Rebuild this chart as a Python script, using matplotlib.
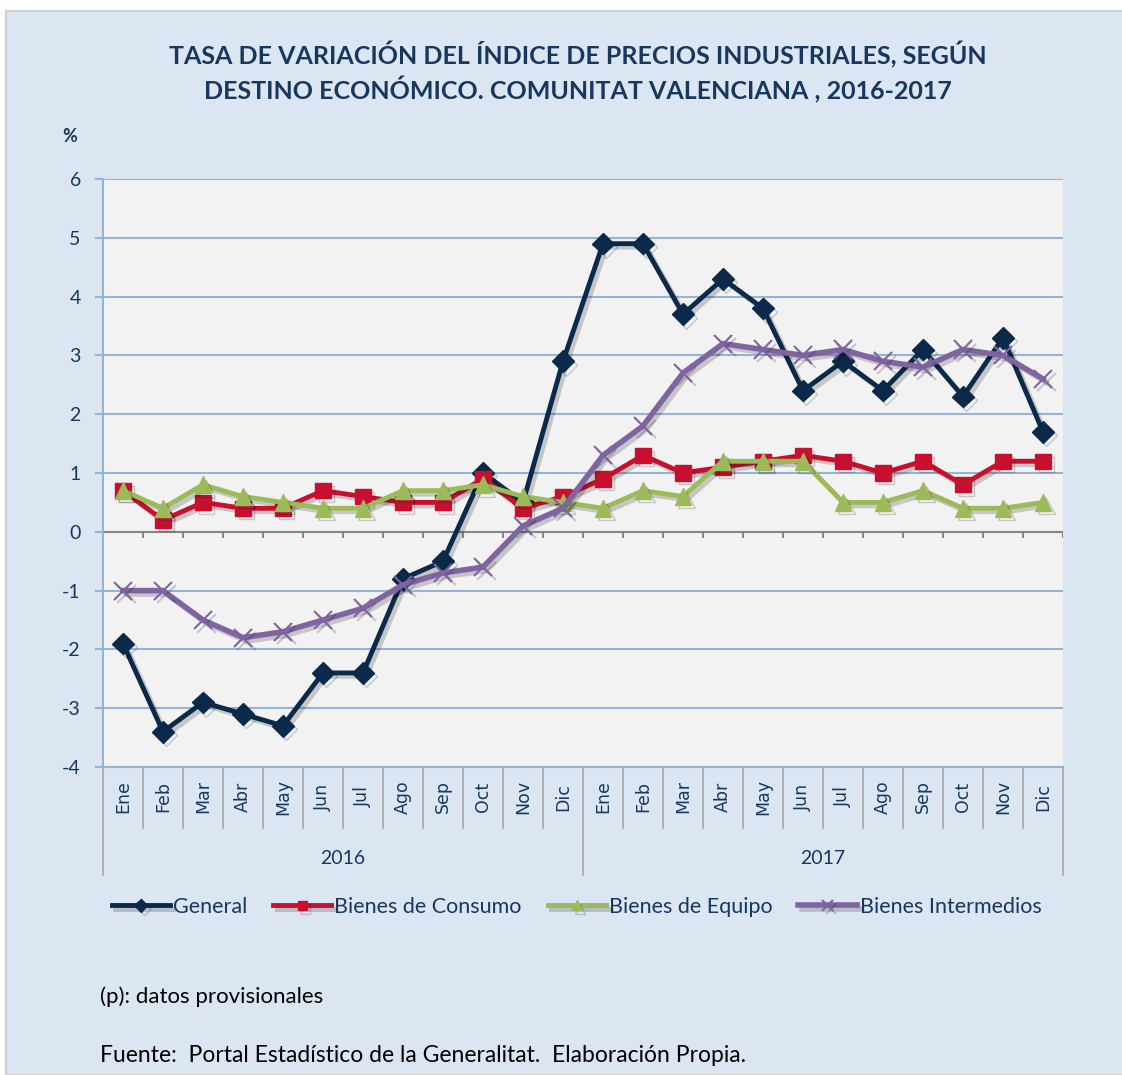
import matplotlib.pyplot as plt
import matplotlib.patheffects as pe
from matplotlib.patches import Rectangle
import matplotlib.transforms as mtransforms

plt.rcParams['font.family'] = ['Lato', 'DejaVu Sans']
plt.rcParams['axes.unicode_minus'] = False

# Datos
meses = ['Ene', 'Feb', 'Mar', 'Abr', 'May', 'Jun', 'Jul', 'Ago', 'Sep', 'Oct', 'Nov', 'Dic']
anios = ['2016', '2017']

general = [-1.9, -3.4, -2.9, -3.1, -3.3, -2.4, -2.4, -0.8, -0.5, 1.0, 0.5, 2.9,
           4.9, 4.9, 3.7, 4.3, 3.8, 2.4, 2.9, 2.4, 3.1, 2.3, 3.3, 1.7]
consumo = [0.7, 0.2, 0.5, 0.4, 0.4, 0.7, 0.6, 0.5, 0.5, 0.9, 0.4, 0.6,
           0.9, 1.3, 1.0, 1.1, 1.2, 1.3, 1.2, 1.0, 1.2, 0.8, 1.2, 1.2]
equipo = [0.7, 0.4, 0.8, 0.6, 0.5, 0.4, 0.4, 0.7, 0.7, 0.8, 0.6, 0.5,
          0.4, 0.7, 0.6, 1.2, 1.2, 1.2, 0.5, 0.5, 0.7, 0.4, 0.4, 0.5]
intermedios = [-1.0, -1.0, -1.5, -1.8, -1.7, -1.5, -1.3, -0.9, -0.7, -0.6, 0.1, 0.4,
               1.3, 1.8, 2.7, 3.2, 3.1, 3.0, 3.1, 2.9, 2.8, 3.1, 3.0, 2.6]

series = [
    ('General', general, '#0B2A4A', 'D', 11),
    ('Bienes de Consumo', consumo, '#C8102E', 's', 11),
    ('Bienes de Equipo', equipo, '#9BBB59', '^', 12),
    ('Bienes Intermedios', intermedios, '#8064A2', 'x', 13),
]

azul_fondo = '#DCE6F2'
azul_grid = '#95B3D7'
azul_titulo = '#17375E'

fig = plt.figure(figsize=(11.22, 10.75), dpi=100)
fig.patch.set_facecolor('white')
fig.patches.append(Rectangle((6 / 1122, 0), 1, (1075 - 11) / 1075, transform=fig.transFigure,
                             facecolor=azul_fondo, edgecolor='#D0D0D0', linewidth=1.5, zorder=-10))

ax = fig.add_axes([103 / 1122, 308 / 1075, 960 / 1122, 588 / 1075])
ax.set_facecolor('#F2F2F2')

x = list(range(len(general)))
sombra = [pe.SimpleLineShadow(offset=(2.5, -2.5), shadow_color='black', alpha=0.18), pe.Normal()]
for nombre, vals, color, marker, ms in series:
    mew = 1.5 if marker == 'x' else 1
    lw = 3.5 if marker != 'x' else 4
    ax.plot(x, vals, color=color, lw=lw, marker=marker, ms=ms,
            mec=color, mew=mew, label=nombre, path_effects=sombra, solid_joinstyle='miter')

ax.set_xlim(-0.5, len(general) - 0.5)
ax.set_ylim(-4, 6)
ax.set_yticks(range(-4, 7))
ax.yaxis.grid(True, color=azul_grid, lw=1.5)
ax.set_axisbelow(True)
ax.tick_params(axis='y', length=6, width=1.5, color=azul_grid, labelsize=14, labelcolor=azul_titulo, pad=10)
ax.set_xticks([])
for s in ['top', 'right']:
    ax.spines[s].set_visible(False)
ax.spines['left'].set_color(azul_grid)
ax.spines['left'].set_linewidth(1.5)
ax.spines['bottom'].set_color(azul_grid)
ax.spines['bottom'].set_linewidth(1.5)

# linea del cero con marcas
ax.axhline(0, color='#868686', lw=1.5, zorder=1.5)
ax.vlines([i - 0.5 for i in range(len(general) + 1)], -0.1, 0, color='#868686', lw=1.5, zorder=1.5)

# eje de categorias multinivel
tr = mtransforms.blended_transform_factory(ax.transData, ax.transAxes)
etiquetas = [m for _ in anios for m in meses]
for i, m in enumerate(etiquetas):
    ax.text(i, -0.051, m, transform=tr, rotation=90, ha='center', va='center',
            fontsize=12.5, color=azul_titulo, family='DejaVu Sans')
for i in range(len(etiquetas) + 1):
    bajo = -0.184 if i % 12 == 0 else -0.104
    ax.plot([i - 0.5, i - 0.5], [0, bajo], transform=tr, color='#A6A6A6', lw=1.2, clip_on=False)
for j, a in enumerate(anios):
    ax.text(j * 12 + 5.5, -0.155, a, transform=tr, ha='center', va='center',
            fontsize=14, color=azul_titulo)

fig.text(578 / 1122, 1 - 55 / 1075, 'TASA DE VARIACIÓN DEL ÍNDICE DE PRECIOS INDUSTRIALES, SEGÚN',
         ha='center', va='center', fontsize=18, fontweight='bold', color=azul_titulo)
fig.text(578 / 1122, 1 - 90 / 1075, 'DESTINO ECONÓMICO. COMUNITAT VALENCIANA , 2016-2017',
         ha='center', va='center', fontsize=18, fontweight='bold', color=azul_titulo)
fig.text(70 / 1122, 1 - 137 / 1075, '%', ha='center', va='center', fontsize=13,
         fontweight='bold', color=azul_titulo)

fig.legend(loc='center left', bbox_to_anchor=(103 / 1122, 1 - 907 / 1075), ncol=4,
           frameon=False, fontsize=15.5, handlelength=2.7, handletextpad=0.15, columnspacing=1.2,
           labelcolor=azul_titulo, borderaxespad=0, markerscale=0.6)

fig.text(100 / 1122, 1 - 997 / 1075, '(p): datos provisionales', ha='left', va='center',
         fontsize=16, color='black')
fig.text(100 / 1122, 1 - 1055 / 1075,
         'Fuente:  Portal Estadístico de la Generalitat.  Elaboración Propia.',
         ha='left', va='center', fontsize=16.5, color='black')

fig.savefig('out.png', dpi=100, facecolor=fig.get_facecolor())
